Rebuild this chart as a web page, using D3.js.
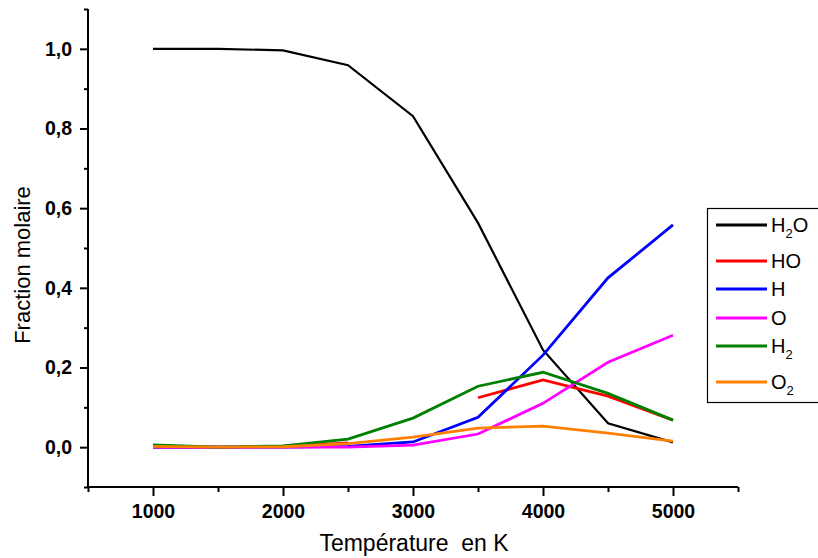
<!DOCTYPE html>
<html>
<head>
<meta charset="utf-8">
<script src="https://cdn.jsdelivr.net/npm/d3@7"></script>
<style>
  html, body { margin: 0; padding: 0; background: #fff; }
  svg { display: block; font-family: "Liberation Sans", Arial, sans-serif; }
  text { white-space: pre; }
</style>
</head>
<body>
<svg id="chart" width="818" height="558"></svg>
<script>
// Temperatures (K) and mole fractions of each species
const temperatures = [1000, 1500, 2000, 2500, 3000, 3500, 4000, 4500, 5000];
const H2O = [1.000, 1.000, 0.996, 0.959, 0.831, 0.563, 0.244, 0.060, 0.012];
const HO  = [0.000, 0.000, 0.001, 0.011, null, 0.124, 0.169, 0.128, 0.068];
const H   = [0.000, 0.000, 0.000, 0.002, 0.013, 0.075, 0.231, 0.425, 0.558];
const O   = [0.000, 0.000, 0.000, 0.000, 0.005, 0.033, 0.110, 0.213, 0.281];
const H2  = [0.006, 0.000, 0.003, 0.020, 0.073, 0.153, 0.188, 0.135, 0.068];
const O2  = [0.002, 0.000, 0.001, 0.009, 0.025, 0.048, 0.053, 0.035, 0.015];

const xMajorTicks = [1000, 2000, 3000, 4000, 5000];
const xMinorTicks = [500, 1500, 2500, 3500, 4500, 5500];
const yMajorTicks = [0, 0.2, 0.4, 0.6, 0.8, 1.0];
const yMinorTicks = [-0.1, 0.1, 0.3, 0.5, 0.7, 0.9, 1.1];

const seriesNames  = ["H2O", "HO", "H", "O", "H2", "O2"];
const seriesValues = [H2O, HO, H, O, H2, O2];
const seriesColors = ["#000000", "#ff0000", "#0000ff", "#ff00ff", "#008000", "#ff8000"];
const seriesWidths = [2.2, 2.8, 2.8, 2.8, 2.8, 2.8];

(function draw() {
  const svg = d3.select("#chart");
  const pl = 88, pr = 738, pt = 9, pb = 487;
  const fontFam = "'Liberation Sans', Arial, sans-serif";

  const x = d3.scaleLinear().domain([500, 5500]).range([pl, pr]);
  const y = d3.scaleLinear().domain([-0.1, 1.1]).range([pb, pt]);

  const fmt = d3.format(".1f");
  const comma = v => fmt(v).replace(".", ",");

  // series lines
  const line = d3.line()
    .defined(d => d[1] !== null)
    .x(d => x(d[0]))
    .y(d => y(d[1]));

  seriesValues.forEach((vals, i) => {
    svg.append("path")
      .datum(temperatures.map((t, j) => [t, vals[j]]))
      .attr("fill", "none")
      .attr("stroke", seriesColors[i])
      .attr("stroke-width", seriesWidths[i])
      .attr("stroke-linejoin", "miter")
      .attr("d", line);
  });

  // X axis: minor then major ticks
  const xMin = svg.append("g").attr("transform", `translate(0,${pb})`)
    .call(d3.axisBottom(x).tickValues(xMinorTicks).tickSize(5).tickFormat(""));
  xMin.select(".domain").remove();
  const xMaj = svg.append("g").attr("transform", `translate(0,${pb})`)
    .call(d3.axisBottom(x).tickValues(xMajorTicks).tickSize(9).tickSizeOuter(0).tickPadding(8).tickFormat(d3.format("d")));
  xMaj.attr("font-family", fontFam);
  xMaj.select(".domain").attr("stroke-width", 2).attr("d", `M${pl},0H${pr}`);
  xMaj.selectAll("text").attr("fill", "#000").style("font-size", "19.5px").style("font-weight", "bold");

  // Y axis: minor then major ticks
  const yMin = svg.append("g").attr("transform", `translate(${pl},0)`)
    .call(d3.axisLeft(y).tickValues(yMinorTicks).tickSize(4).tickFormat(""));
  yMin.select(".domain").remove();
  const yMaj = svg.append("g").attr("transform", `translate(${pl},0)`)
    .call(d3.axisLeft(y).tickValues(yMajorTicks).tickSize(8).tickSizeOuter(0).tickPadding(8).tickFormat(comma));
  yMaj.attr("font-family", fontFam);
  yMaj.select(".domain").attr("stroke-width", 2).attr("d", `M0,${pt}V${pb}`);
  yMaj.selectAll("text").attr("fill", "#000").style("font-size", "19.5px").style("font-weight", "bold");
  svg.selectAll("g.tick line").attr("stroke-width", 2);

  // axis titles
  svg.append("text")
    .attr("x", 414).attr("y", 551)
    .attr("text-anchor", "middle").attr("font-size", 23)
    .text("Température  en K");
  svg.append("text")
    .attr("transform", `translate(30,265) rotate(-90)`)
    .attr("text-anchor", "middle").attr("font-size", 22)
    .text("Fraction molaire");

  // legend
  const legend = svg.append("g");
  legend.append("rect")
    .attr("x", 707.5).attr("y", 208.5).attr("width", 130).attr("height", 194)
    .attr("fill", "#fff").attr("stroke", "#000").attr("stroke-width", 1.2);
  const rowY = [225, 261, 289, 318, 346, 382];
  const labels = [["H", "2", "O"], ["HO"], ["H"], ["O"], ["H", "2"], ["O", "2"]];
  seriesNames.forEach((name, i) => {
    legend.append("line")
      .attr("x1", 716).attr("x2", 767)
      .attr("y1", rowY[i]).attr("y2", rowY[i])
      .attr("stroke", seriesColors[i]).attr("stroke-width", 2.8);
    const t = legend.append("text")
      .attr("x", 771).attr("y", rowY[i] + 7)
      .attr("font-size", 20);
    labels[i].forEach((part, k) => {
      const sp = t.append("tspan").text(part);
      if (k === 1 && part === "2") {
        sp.attr("font-size", 13).attr("dy", 6);
      } else if (k === 2) {
        sp.attr("dy", -6);
      }
    });
  });
})();
</script>
</body>
</html>
